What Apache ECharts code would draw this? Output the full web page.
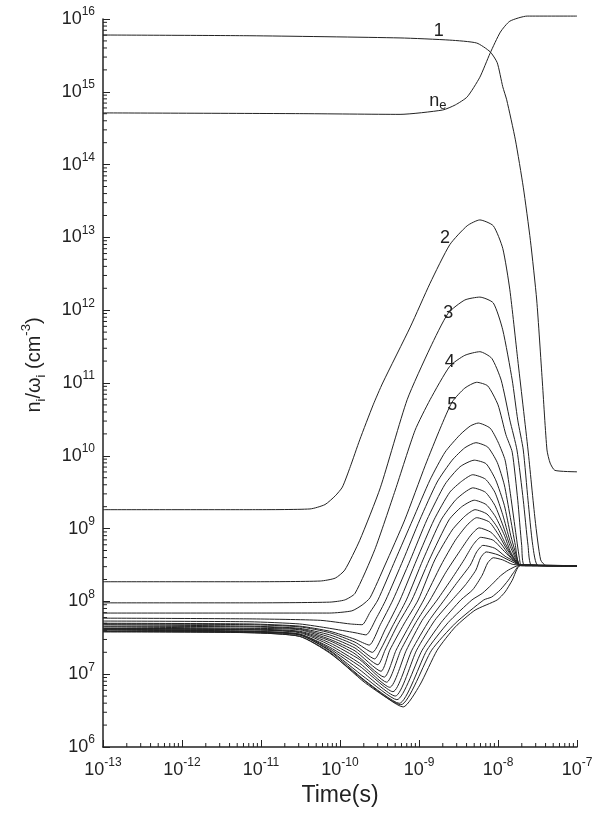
<!DOCTYPE html>
<html>
<head>
<meta charset="utf-8">
<title>n_i / omega_i vs time</title>
<script src="https://cdn.jsdelivr.net/npm/echarts@6/dist/echarts.min.js"></script>
<style>
  html, body { margin: 0; padding: 0; background: #fff; }
  #chart { width: 595px; height: 823px; }
</style>
</head>
<body>
<div id="chart"></div>
<script>
// axis decades (exponents of 10)
const xTickExponents = [-13, -12, -11, -10, -9, -8, -7];
const yTickExponents = [6, 7, 8, 9, 10, 11, 12, 13, 14, 15, 16];
const minorMultipliers = [2, 3, 4, 5, 6, 7, 8, 9];

// every point is [log10 Time(s), log10 n_i/omega_i (cm^-3)]
const curve1 = [[-13, 15.78], [-11.14, 15.77], [-9.24, 15.74], [-8.61, 15.71], [-8.27, 15.67], [-8.10, 15.55], [-8.01, 15.40], [-7.94, 15.07], [-7.89, 14.89], [-7.78, 14.34], [-7.68, 13.69], [-7.59, 12.96], [-7.51, 12.14], [-7.44, 11.04], [-7.38, 10.08], [-7.34, 9.90], [-7.28, 9.80], [-7.00, 9.78]];
const curveNe = [[-13, 14.71], [-10.51, 14.70], [-9.24, 14.69], [-8.70, 14.75], [-8.54, 14.82], [-8.39, 14.93], [-8.23, 15.20], [-8.10, 15.53], [-7.97, 15.82], [-7.85, 15.97], [-7.63, 16.04], [-7.00, 16.04]];
const curve2 = [[-13, 9.26], [-11.14, 9.26], [-10.38, 9.27], [-10.19, 9.33], [-10.06, 9.45], [-9.97, 9.57], [-9.87, 9.85], [-9.75, 10.22], [-9.58, 10.70], [-9.46, 11.00], [-9.11, 11.77], [-8.86, 12.37], [-8.61, 12.90], [-8.39, 13.16], [-8.23, 13.24], [-8.06, 13.16], [-7.94, 12.85], [-7.85, 12.28], [-7.75, 11.32], [-7.62, 10.08], [-7.53, 9.12], [-7.46, 8.57], [-7.39, 8.49], [-7.00, 8.49]];
const curve3 = [[-13, 8.27], [-11.14, 8.27], [-10.25, 8.28], [-10.06, 8.32], [-9.94, 8.43], [-9.75, 8.84], [-9.49, 9.56], [-9.15, 10.77], [-8.86, 11.48], [-8.63, 11.96], [-8.42, 12.14], [-8.23, 12.18], [-8.06, 12.10], [-7.94, 11.73], [-7.82, 11.04], [-7.75, 10.49], [-7.68, 10.08], [-7.62, 9.39], [-7.56, 8.77], [-7.49, 8.49], [-7.00, 8.49]];
const curve4 = [[-13, 7.98], [-11.14, 7.98], [-10.13, 7.99], [-9.94, 8.02], [-9.81, 8.11], [-9.56, 8.71], [-9.30, 9.53], [-9.05, 10.35], [-8.86, 10.77], [-8.61, 11.23], [-8.42, 11.38], [-8.23, 11.43], [-8.08, 11.34], [-7.96, 11.04], [-7.85, 10.49], [-7.76, 10.08], [-7.68, 9.39], [-7.62, 8.77], [-7.57, 8.49], [-7.00, 8.49]];
const curve5 = [[-13, 7.84], [-11.14, 7.84], [-10.13, 7.84], [-9.85, 7.87], [-9.72, 7.95], [-9.62, 8.05], [-9.43, 8.50], [-9.18, 9.12], [-8.92, 9.87], [-8.73, 10.38], [-8.58, 10.74], [-8.42, 10.93], [-8.27, 11.01], [-8.13, 10.96], [-8.00, 10.70], [-7.90, 10.29], [-7.82, 10.05], [-7.75, 9.39], [-7.70, 8.77], [-7.66, 8.49], [-7.00, 8.49]];
const curve6 = [[-13, 7.77], [-11.14, 7.76], [-10.25, 7.74], [-9.87, 7.69], [-9.72, 7.68], [-9.62, 7.85], [-9.52, 8.02], [-9.30, 8.57], [-9.08, 9.12], [-8.86, 9.67], [-8.67, 10.05], [-8.48, 10.29], [-8.35, 10.41], [-8.25, 10.45], [-8.10, 10.38], [-8.00, 10.19], [-7.91, 9.94], [-7.85, 9.53], [-7.78, 8.98], [-7.73, 8.60], [-7.70, 8.49], [-7.00, 8.49]];
const curve7 = [[-13, 7.73], [-11.14, 7.72], [-10.51, 7.69], [-10.13, 7.63], [-9.81, 7.57], [-9.67, 7.54], [-9.54, 7.77], [-9.42, 8.02], [-9.20, 8.57], [-8.99, 9.12], [-8.77, 9.64], [-8.58, 9.94], [-8.42, 10.11], [-8.28, 10.18], [-8.13, 10.12], [-8.01, 9.91], [-7.92, 9.60], [-7.85, 9.19], [-7.78, 8.77], [-7.72, 8.50], [-7.00, 8.49]];
const curve8 = [[-13, 7.70], [-11.14, 7.69], [-10.51, 7.66], [-10.13, 7.59], [-9.81, 7.48], [-9.63, 7.40], [-9.49, 7.68], [-9.33, 8.02], [-9.11, 8.57], [-8.90, 9.12], [-8.67, 9.61], [-8.48, 9.85], [-8.30, 9.94], [-8.15, 9.89], [-8.03, 9.67], [-7.92, 9.32], [-7.84, 8.91], [-7.77, 8.64], [-7.72, 8.50], [-7.00, 8.49]];
const curve9 = [[-13, 7.69], [-11.14, 7.68], [-10.51, 7.65], [-10.13, 7.57], [-9.81, 7.44], [-9.59, 7.30], [-9.43, 7.61], [-9.24, 8.02], [-9.03, 8.57], [-8.81, 9.12], [-8.61, 9.50], [-8.46, 9.65], [-8.32, 9.74], [-8.16, 9.68], [-8.04, 9.50], [-7.94, 9.19], [-7.85, 8.84], [-7.77, 8.60], [-7.72, 8.50], [-7.00, 8.49]];
const curve10 = [[-13, 7.68], [-11.14, 7.66], [-10.51, 7.63], [-10.13, 7.54], [-9.81, 7.40], [-9.56, 7.21], [-9.49, 7.33], [-9.34, 7.65], [-9.16, 8.02], [-8.95, 8.57], [-8.72, 9.12], [-8.54, 9.39], [-8.42, 9.50], [-8.32, 9.56], [-8.16, 9.50], [-8.04, 9.32], [-7.94, 9.05], [-7.85, 8.77], [-7.77, 8.57], [-7.72, 8.50], [-7.00, 8.49]];
const curve11 = [[-13, 7.66], [-11.14, 7.65], [-10.51, 7.62], [-10.13, 7.51], [-9.81, 7.36], [-9.52, 7.13], [-9.43, 7.33], [-9.27, 7.68], [-9.09, 8.02], [-8.87, 8.57], [-8.62, 9.12], [-8.46, 9.30], [-8.30, 9.39], [-8.15, 9.33], [-8.03, 9.16], [-7.92, 8.91], [-7.84, 8.68], [-7.72, 8.50], [-7.00, 8.49]];
const curve12 = [[-13, 7.65], [-11.14, 7.63], [-10.51, 7.61], [-10.13, 7.48], [-9.81, 7.32], [-9.48, 7.04], [-9.37, 7.33], [-9.19, 7.69], [-9.01, 8.02], [-8.80, 8.57], [-8.58, 8.98], [-8.42, 9.17], [-8.29, 9.26], [-8.14, 9.20], [-8.01, 9.02], [-7.91, 8.80], [-7.82, 8.62], [-7.72, 8.50], [-7.00, 8.49]];
const curve13 = [[-13, 7.63], [-11.14, 7.62], [-10.51, 7.59], [-10.13, 7.46], [-9.81, 7.28], [-9.44, 6.96], [-9.29, 7.33], [-9.11, 7.69], [-8.94, 8.02], [-8.72, 8.50], [-8.54, 8.84], [-8.39, 9.05], [-8.27, 9.15], [-8.11, 9.09], [-7.99, 8.91], [-7.89, 8.72], [-7.81, 8.60], [-7.72, 8.50], [-7.00, 8.49]];
const curve14 = [[-13, 7.63], [-11.14, 7.61], [-10.51, 7.58], [-10.13, 7.43], [-9.75, 7.20], [-9.41, 6.89], [-9.23, 7.33], [-9.04, 7.71], [-8.86, 8.02], [-8.66, 8.40], [-8.49, 8.68], [-8.35, 8.90], [-8.24, 9.01], [-8.09, 8.95], [-7.96, 8.79], [-7.86, 8.64], [-7.72, 8.50], [-7.00, 8.49]];
const curve15 = [[-13, 7.62], [-11.14, 7.61], [-10.51, 7.57], [-10.13, 7.40], [-9.75, 7.15], [-9.37, 6.82], [-9.16, 7.33], [-8.96, 7.74], [-8.77, 8.02], [-8.58, 8.32], [-8.43, 8.57], [-8.32, 8.77], [-8.22, 8.88], [-8.06, 8.84], [-7.94, 8.71], [-7.84, 8.60], [-7.72, 8.50], [-7.00, 8.49]];
const curve16 = [[-13, 7.62], [-11.14, 7.59], [-10.51, 7.55], [-10.13, 7.37], [-9.75, 7.11], [-9.33, 6.76], [-9.09, 7.33], [-8.87, 7.74], [-8.68, 8.02], [-8.51, 8.27], [-8.35, 8.50], [-8.27, 8.68], [-8.19, 8.77], [-8.04, 8.73], [-7.91, 8.62], [-7.81, 8.56], [-7.72, 8.50], [-7.00, 8.49]];
const curve17 = [[-13, 7.61], [-11.14, 7.59], [-10.51, 7.55], [-10.13, 7.35], [-9.75, 7.06], [-9.30, 6.70], [-9.03, 7.33], [-8.80, 7.74], [-8.58, 8.02], [-8.41, 8.23], [-8.28, 8.43], [-8.22, 8.60], [-8.15, 8.68], [-8.00, 8.64], [-7.87, 8.57], [-7.72, 8.50], [-7.00, 8.49]];
const curve18 = [[-13, 7.61], [-11.14, 7.58], [-10.51, 7.54], [-10.13, 7.33], [-9.68, 6.95], [-9.28, 6.65], [-8.96, 7.33], [-8.72, 7.71], [-8.47, 8.02], [-8.32, 8.16], [-8.20, 8.36], [-8.13, 8.53], [-8.06, 8.60], [-7.94, 8.57], [-7.82, 8.51], [-7.72, 8.50], [-7.00, 8.49]];
const curve19 = [[-13, 7.59], [-11.14, 7.58], [-10.51, 7.54], [-10.13, 7.32], [-9.68, 6.91], [-9.25, 6.60], [-8.90, 7.33], [-8.63, 7.71], [-8.33, 8.02], [-8.20, 8.11], [-8.08, 8.23], [-7.97, 8.35], [-7.87, 8.43], [-7.72, 8.50], [-7.00, 8.49]];
const curve20 = [[-13, 7.59], [-11.14, 7.57], [-10.51, 7.52], [-10.13, 7.30], [-9.68, 6.88], [-9.23, 6.58], [-8.84, 7.33], [-8.54, 7.70], [-8.18, 8.02], [-8.08, 8.06], [-7.97, 8.16], [-7.87, 8.29], [-7.80, 8.40], [-7.72, 8.50], [-7.00, 8.49]];
const curve21 = [[-13, 7.58], [-11.14, 7.57], [-10.51, 7.52], [-10.13, 7.29], [-9.62, 6.85], [-9.20, 6.55], [-8.99, 6.85], [-8.77, 7.33], [-8.54, 7.65], [-8.29, 7.88], [-8.01, 8.02], [-7.91, 8.13], [-7.82, 8.29], [-7.72, 8.49], [-7.00, 8.49]];

// curve annotations printed inside the plot
const curveLabelText = ['1', 'n_e', '2', '3', '4', '5'];
const curveLabelPos = [[-8.75, 15.84], [-8.76, 14.87], [-8.67, 12.99], [-8.63, 11.96], [-8.61, 11.29], [-8.58, 10.70]];

const allCurves = [curve1, curveNe, curve2, curve3, curve4, curve5, curve6, curve7, curve8, curve9, curve10,
  curve11, curve12, curve13, curve14, curve15, curve16, curve17, curve18, curve19, curve20, curve21];

const ink = '#222';
const font = '"Liberation Sans", Arial, Helvetica, sans-serif';

const powerRich = {
  b: { fontSize: 18, lineHeight: 26, color: ink, fontFamily: font },
  s: { fontSize: 12, lineHeight: 14, verticalAlign: 'top', color: ink, fontFamily: font },
};
const powerLabel = (v) => `{b|10}{s|${Math.round(v)}}`;

// minor log ticks (2..9 inside every decade)
const xMinor = [];
xTickExponents.slice(0, -1).forEach((k) => {
  minorMultipliers.forEach((m) => xMinor.push([k + Math.log10(m), yTickExponents[0]]));
});
const yMinor = [];
yTickExponents.slice(0, -1).forEach((k) => {
  minorMultipliers.forEach((m) => yMinor.push([xTickExponents[0], k + Math.log10(m)]));
});

function minorTickSeries(data, vertical) {
  return {
    type: 'custom',
    data: data,
    silent: true,
    clip: false,
    z: 5,
    renderItem(params, api) {
      const p = api.coord([api.value(0), api.value(1)]);
      return {
        type: 'line',
        shape: vertical
          ? { x1: p[0], y1: p[1], x2: p[0], y2: p[1] - 4 }
          : { x1: p[0], y1: p[1], x2: p[0] + 4, y2: p[1] },
        style: { stroke: ink, lineWidth: 1 },
      };
    },
  };
}

const curveSeries = allCurves.map((data) => ({
  type: 'line',
  data: data,
  showSymbol: false,
  symbol: 'none',
  smooth: 0.2,
  clip: false,
  silent: true,
  lineStyle: { color: ink, width: 1 },
  z: 3,
}));

const labelTextStyle = { color: ink, fontFamily: font, textBorderWidth: 0, textShadowBlur: 0 };
const labelSeries = {
  type: 'scatter',
  silent: true,
  symbolSize: 0,
  itemStyle: { color: 'rgba(0,0,0,0)' },
  data: curveLabelPos.map((p, i) => ({ value: p, name: curveLabelText[i] })),
  label: {
    show: true,
    position: 'inside',
    color: ink,
    opacity: 1,
    textBorderWidth: 0,
    formatter: (p) => (p.name === 'n_e' ? '{n|n}{e|e}' : `{n|${p.name}}`),
    rich: {
      n: { ...labelTextStyle, fontSize: 18, lineHeight: 22 },
      e: { ...labelTextStyle, fontSize: 13, lineHeight: 12, verticalAlign: 'bottom' },
    },
  },
  labelLayout: { hideOverlap: false },
  z: 6,
};

const chart = echarts.init(document.getElementById('chart'), null, { renderer: 'canvas' });
chart.setOption({
  animation: false,
  backgroundColor: '#fff',
  grid: { left: 103, right: 18, top: 19, bottom: 76, containLabel: false, outerBoundsMode: 'none' },
  xAxis: {
    type: 'value',
    min: xTickExponents[0],
    max: xTickExponents[xTickExponents.length - 1],
    interval: 1,
    axisLine: { onZero: false, lineStyle: { color: ink, width: 1.5 } },
    axisTick: { inside: true, length: 7, lineStyle: { color: ink, width: 1 } },
    splitLine: { show: false },
    axisLabel: { margin: 10, showMinLabel: true, showMaxLabel: true, formatter: powerLabel, rich: powerRich },
    name: 'Time(s)',
    nameLocation: 'middle',
    nameGap: 28,
    nameTextStyle: { fontSize: 23, color: ink, fontFamily: font },
  },
  yAxis: {
    type: 'value',
    min: yTickExponents[0],
    max: yTickExponents[yTickExponents.length - 1],
    interval: 1,
    axisLine: { onZero: false, lineStyle: { color: ink, width: 1.5 } },
    axisTick: { inside: true, length: 7, lineStyle: { color: ink, width: 1 } },
    splitLine: { show: false },
    axisLabel: { margin: 8, showMinLabel: true, showMaxLabel: true, formatter: powerLabel, rich: powerRich },
    name: '{a|n}{sub|i}{a|/ω}{sub|i}{a| (cm}{sup|-3}{a|)}',
    nameLocation: 'middle',
    nameRotate: 90,
    nameGap: 55,
    nameTextStyle: {
      padding: [0, 0, 0, 36],
      rich: {
        a: { fontSize: 20, lineHeight: 28, color: ink, fontFamily: font },
        sub: { fontSize: 13, lineHeight: 14, verticalAlign: 'bottom', color: ink, fontFamily: font },
        sup: { fontSize: 13, lineHeight: 14, verticalAlign: 'top', color: ink, fontFamily: font },
      },
    },
  },
  series: [
    ...curveSeries,
    minorTickSeries(xMinor, true),
    minorTickSeries(yMinor, false),
    labelSeries,
  ],
});
</script>
</body>
</html>
